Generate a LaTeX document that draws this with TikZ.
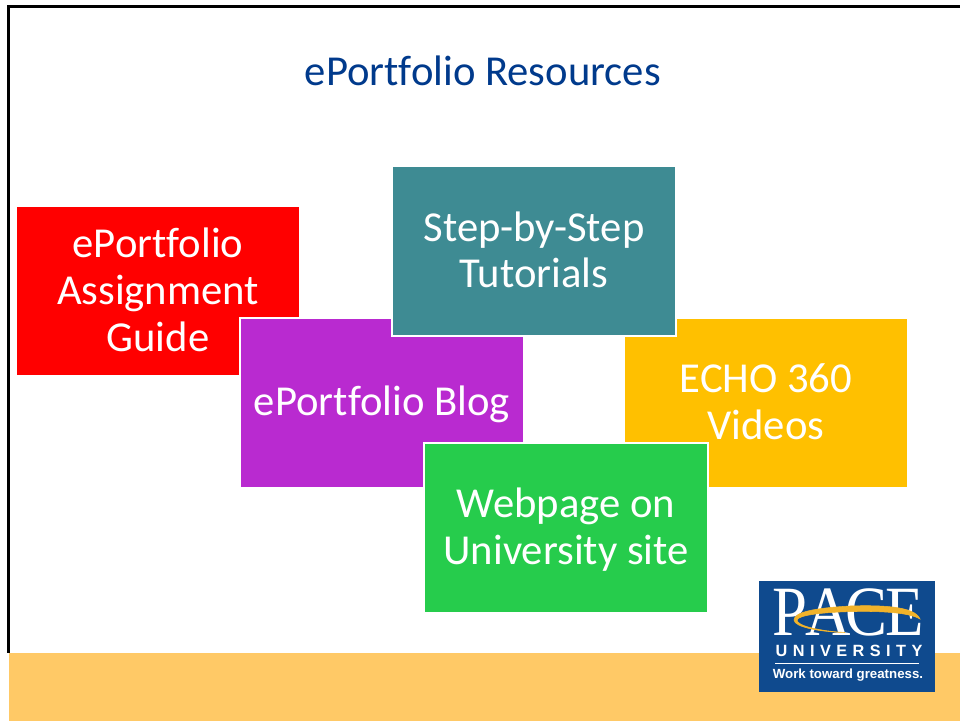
\documentclass[tikz,border=0pt]{standalone}
\usepackage{fontspec}
\setmainfont{Carlito}[Ligatures=NoCommon]
\newfontfamily\logoserif{Liberation Serif}
\newfontfamily\logosans{Liberation Sans}
\definecolor{titleblue}{HTML}{003A8C}
\definecolor{cardred}{HTML}{FF0000}
\definecolor{cardpurple}{HTML}{B92AD0}
\definecolor{cardteal}{HTML}{3E8B93}
\definecolor{cardyellow}{HTML}{FFC000}
\definecolor{cardgreen}{HTML}{26CC4C}
\definecolor{band}{HTML}{FFC966}
\definecolor{logoblue}{HTML}{0F4A8E}
\definecolor{logogold}{HTML}{F2B32A}
\tikzset{
  x=0.75pt,y=-0.75pt,
  card/.style={draw=white,line width=1.5pt,inner sep=0pt,
    minimum width=213.5pt,minimum height=127.5pt},
  cardlabel/.style={inner sep=0pt,align=center,text=white,
    font=\fontsize{32}{35}\selectfont},
  logotext/.style={inner sep=0pt,text=white},
}
\begin{document}
\begin{tikzpicture}
\useasboundingbox (0,0) rectangle (960,721);
\fill[white] (0,0) rectangle (960,721);
\fill[band] (9,653) rectangle (960,721);
\fill[black] (7,5) rectangle (960,8);
\fill[black] (7,5) rectangle (10,653);
\node[inner sep=0pt,text=titleblue,font=\fontsize{32}{35}\selectfont] (title) at (482.8,71) {ePortfolio Resources};
\node[card,fill=cardred,label={[cardlabel,yshift=0.75pt]center:{ePortfolio\\Assignment\\Guide}}] (guide) at (158,291) {};
\node[card,fill=cardpurple,label={[cardlabel,yshift=-0.75pt]center:{ePortfolio Blog}}] (blog) at (382,403) {};
\node[card,fill=cardyellow,label={[cardlabel,yshift=0.75pt]center:{ECHO 360\\Videos}}] (echo) at (766,403) {};
\node[card,minimum width=212.75pt,fill=cardteal,label={[cardlabel,yshift=0.75pt]center:{Step-by-Step\\Tutorials}}] (tutorials) at (534,251) {};
\node[card,minimum width=212.75pt,fill=cardgreen,label={[cardlabel,yshift=-1.5pt]center:{Webpage on\\University site}}] (webpage) at (566,527.5) {};
\node[fill=logoblue,inner sep=0pt,minimum width=132pt,minimum height=83.5pt] (logo) at (847,636.5) {};
\node[logotext,font=\logoserif\fontsize{53}{53}\selectfont] (pace) at (848,612.5) {\scalebox{0.89}[1]{P\kern-2pt A\kern-4pt C\kern-2pt E}};
\draw[logogold,line width=0.4pt,fill=logogold]
  (920,619) .. controls (915,606) and (880,605) .. (850,606)
  .. controls (815,608) and (794,612) .. (794,620)
  .. controls (794,627) and (820,632) .. (845,632.5)
  .. controls (820,631) and (797,626) .. (797,620)
  .. controls (798,615) and (825,612) .. (855,611.5)
  .. controls (885,611) and (910,613) .. cycle;
\node[logotext,font=\logosans\bfseries\fontsize{12.2}{14}\selectfont] (univ) at (849,650.5) {U\kern4.1pt N\kern4.1pt I\kern4.1pt V\kern4.1pt E\kern4.1pt R\kern4.1pt S\kern4.1pt I\kern4.1pt T\kern4.1pt Y};
\fill[white] (775,662.8) rectangle (919,664);
\node[logotext,font=\logosans\bfseries\fontsize{9.95}{12}\selectfont] (slogan) at (848,675.5) {Work toward greatness.};
\end{tikzpicture}
\end{document}
